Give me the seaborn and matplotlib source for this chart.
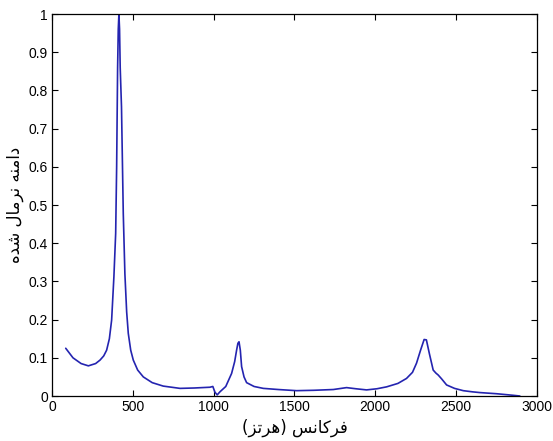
import seaborn as sns
import matplotlib.pyplot as plt
import pandas as pd

# frequency (Hz) and normalised amplitude
freq = [85, 130, 180, 225, 270, 297, 320, 338, 355, 369, 383, 394, 400, 406, 410,
        414, 418, 422, 430, 441, 451, 462, 472, 487, 503, 530, 565, 620, 688, 740,
        792, 880, 977, 995, 1008, 1022, 1039, 1075, 1111, 1130, 1142, 1150, 1157,
        1165, 1173, 1188, 1204, 1250, 1307, 1400, 1513, 1620, 1740, 1822, 1880,
        1946, 2010, 2070, 2140, 2193, 2230, 2255, 2280, 2302, 2316, 2335, 2358,
        2375, 2389, 2410, 2441, 2490, 2544, 2600, 2647, 2750, 2850, 2894]
amp = [0.125, 0.100, 0.085, 0.079, 0.085, 0.094, 0.105, 0.12, 0.15, 0.199, 0.312,
       0.426, 0.60, 0.86, 0.96, 1.0, 0.96, 0.86, 0.757, 0.478, 0.32, 0.22, 0.164,
       0.12, 0.094, 0.068, 0.05, 0.035, 0.026, 0.023, 0.020, 0.021, 0.023, 0.025,
       0.010, 0.003, 0.011, 0.025, 0.059, 0.09, 0.12, 0.138, 0.142, 0.12, 0.077,
       0.05, 0.035, 0.025, 0.020, 0.017, 0.014, 0.015, 0.017, 0.022, 0.019, 0.016,
       0.019, 0.024, 0.033, 0.046, 0.062, 0.086, 0.12, 0.148, 0.147, 0.11, 0.068,
       0.060, 0.055, 0.045, 0.029, 0.020, 0.014, 0.011, 0.009, 0.006, 0.002, 0.0]

x_ticks = [0, 500, 1000, 1500, 2000, 2500, 3000]
y_ticks = [0, 0.1, 0.2, 0.3, 0.4, 0.5, 0.6, 0.7, 0.8, 0.9, 1]
y_tick_labels = ['0', '0.1', '0.2', '0.3', '0.4', '0.5', '0.6', '0.7', '0.8', '0.9', '1']

# Persian labels written in shaped presentation forms, visual order
# (matplotlib does no Arabic shaping / bidi on its own)
x_label = '(\uFEB0\uFE97\uFEAE\uFEEB) \uFEB2\uFEE7\uFE8E\uFB90\uFEAE\uFED3'   # فرکانس (هرتز)
y_label = '\uFEE9\uFEAA\uFEB7 \uFEDD\uFE8E\uFEE3\uFEAE\uFEE7 \uFEEA\uFEE8\uFEE3\uFE8D\uFEA9'  # دامنه نرمال شده

sns.set_style('ticks')
plt.rcParams['font.family'] = ['Liberation Sans', 'DejaVu Sans']
plt.rcParams['xtick.direction'] = 'in'
plt.rcParams['ytick.direction'] = 'in'

df = pd.DataFrame({'freq': freq, 'amp': amp})

fig = plt.figure(figsize=(5.53, 4.41), dpi=100)
ax = fig.add_axes([0.094, 0.102, 0.877, 0.866])
sns.lineplot(data=df, x='freq', y='amp', ax=ax, color='#2424b0', linewidth=1.2,
             sort=False, estimator=None)

ax.set_xlim(0, 3000)
ax.set_ylim(0, 1)
ax.set_xticks(x_ticks)
ax.set_yticks(y_ticks)
ax.set_yticklabels(y_tick_labels)
ax.tick_params(top=True, right=True, length=4, width=0.8, labelsize=10,
               color='black', labelcolor='black', pad=3)
for s in ax.spines.values():
    s.set_color('black')
    s.set_linewidth(0.9)

ax.set_xlabel(x_label, family=['DejaVu Sans'], fontsize=12, color='black', labelpad=3)
ax.set_ylabel(y_label, family=['DejaVu Sans'], fontsize=12, color='black', labelpad=3)

fig.savefig('out.png', dpi=100)
